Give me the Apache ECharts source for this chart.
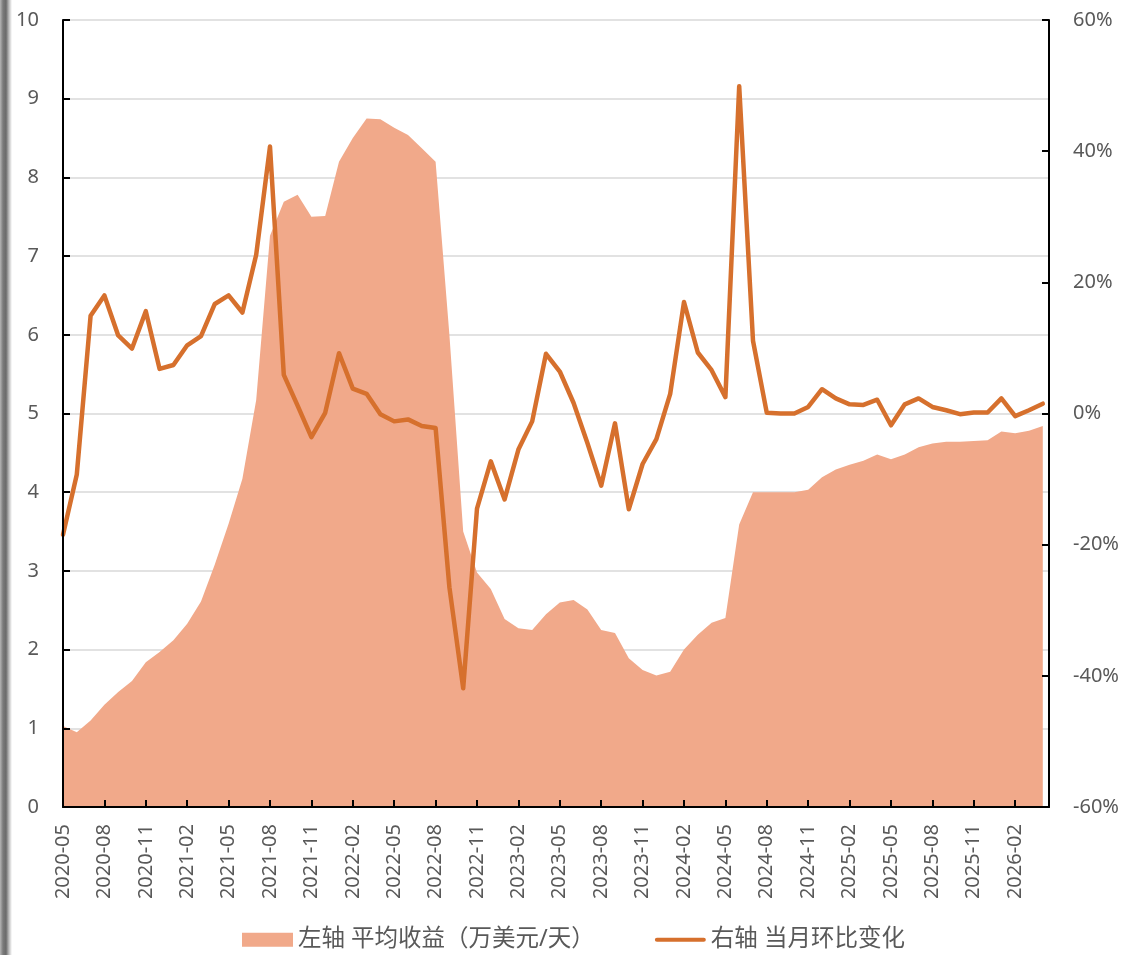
<!DOCTYPE html>
<html>
<head>
<meta charset="utf-8">
<script src="https://cdn.jsdelivr.net/npm/echarts@6/dist/echarts.min.js"></script>
<style>
  html, body { margin: 0; padding: 0; background: #ffffff; }
  #chart { width: 1127px; height: 955px; position: relative; }
  #edge { position: absolute; left: 0; top: 0; width: 12px; height: 955px; pointer-events: none; z-index: 5;
    background: linear-gradient(to right, #b5b5b5 0px, #7a7a7a 3px, #6a6a6a 6px, #bdbdbd 9px, #ffffff 12px); }
</style>
</head>
<body>
<div id="chart"></div>
<div id="edge"></div>
<script>
// Monthly categories (x axis)
const categories = [
  '2020-05','2020-06','2020-07','2020-08','2020-09','2020-10','2020-11','2020-12',
  '2021-01','2021-02','2021-03','2021-04','2021-05','2021-06','2021-07','2021-08','2021-09','2021-10','2021-11','2021-12',
  '2022-01','2022-02','2022-03','2022-04','2022-05','2022-06','2022-07','2022-08','2022-09','2022-10','2022-11','2022-12',
  '2023-01','2023-02','2023-03','2023-04','2023-05','2023-06','2023-07','2023-08','2023-09','2023-10','2023-11','2023-12',
  '2024-01','2024-02','2024-03','2024-04','2024-05','2024-06','2024-07','2024-08','2024-09','2024-10','2024-11','2024-12',
  '2025-01','2025-02','2025-03','2025-04','2025-05','2025-06','2025-07','2025-08','2025-09','2025-10','2025-11','2025-12',
  '2026-01','2026-02','2026-03','2026-04'
];

// Left axis: average earnings (10k USD / day)
const avgEarnings = [
  1.03, 0.95, 1.10, 1.30, 1.46, 1.60, 1.84, 1.97,
  2.12, 2.33, 2.61, 3.08, 3.60, 4.17, 5.17, 7.26, 7.69, 7.78, 7.50, 7.51,
  8.20, 8.50, 8.75, 8.74, 8.63, 8.54, 8.37, 8.20, 6.00, 3.50, 2.98, 2.77,
  2.39, 2.27, 2.25, 2.45, 2.60, 2.63, 2.51, 2.25, 2.21, 1.89, 1.74, 1.67,
  1.72, 2.00, 2.19, 2.34, 2.40, 3.59, 4.00, 4.00, 4.00, 4.00, 4.03, 4.19,
  4.29, 4.35, 4.40, 4.48, 4.42, 4.48, 4.57, 4.62, 4.64, 4.64, 4.65, 4.66,
  4.77, 4.75, 4.78, 4.84
];

// Right axis: month-over-month change (%)
const momChange = [
  -18.5, -9.3, 14.9, 18.0, 11.9, 9.9, 15.6, 6.8,
  7.4, 10.4, 11.8, 16.7, 18.0, 15.4, 24.2, 40.7, 5.9, 1.2, -3.6, 0.1,
  9.2, 3.8, 3.0, -0.1, -1.2, -0.9, -1.9, -2.2, -26.5, -41.9, -14.5, -7.3,
  -13.1, -5.5, -1.2, 9.1, 6.4, 1.6, -4.5, -11.0, -1.5, -14.6, -7.7, -3.9,
  3.0, 17.0, 9.3, 6.6, 2.5, 49.9, 11.1, 0.1, 0.0, 0.0, 1.0, 3.7,
  2.3, 1.4, 1.3, 2.1, -1.8, 1.4, 2.3, 1.0, 0.5, -0.1, 0.15, 0.15,
  2.3, -0.4, 0.5, 1.5
];

const leftTicks = { min: 0, max: 10, interval: 1 };
const rightTicks = { min: -60, max: 60, interval: 20 };
const seriesNames = ['左轴 平均收益（万美元/天）', '右轴 当月环比变化'];

const AREA = '#F1A98A';
const LINE = '#D6702D';
const TXT = '#595959';
const FONT = "'Noto Sans', 'Noto Sans CJK SC', sans-serif";

const chart = echarts.init(document.getElementById('chart'), null, { renderer: 'canvas' });

const option = {
  animation: false,
  backgroundColor: '#ffffff',
  textStyle: { fontFamily: FONT },
  grid: { left: 63, right: 78, top: 20, bottom: 148, containLabel: false, outerBoundsMode: 'none' },
  legend: {
    left: 242, top: 928, padding: 0,
    itemWidth: 51, itemHeight: 14, itemGap: 60,
    symbolKeepAspect: true,
    textStyle: { fontSize: 23.5, color: TXT, fontFamily: FONT },
    data: [
      { name: seriesNames[0], icon: 'rect', itemStyle: { color: AREA, borderWidth: 0 } },
      { name: seriesNames[1], icon: 'path://M2,0H52A2,2,0,0,1,52,4.5H2A2,2,0,0,1,2,0Z',
        itemStyle: { color: LINE, borderWidth: 0 } }
    ]
  },
  xAxis: {
    type: 'value',
    min: 0,
    max: 71.45,
    interval: 3,
    z: 10,
    axisLine: { onZero: false, lineStyle: { color: '#000', width: 2 } },
    axisTick: { show: true, inside: true, length: 7, lineStyle: { color: '#000', width: 2 } },
    splitLine: { show: false },
    axisLabel: {
      rotate: 90, margin: 17, fontSize: 20, color: TXT, fontFamily: FONT,
      showMaxLabel: false,
      formatter: function (v) {
        const i = Math.round(v);
        return (Math.abs(v - i) < 1e-6 && i % 3 === 0 && categories[i]) ? categories[i] : '';
      }
    }
  },
  yAxis: [
    {
      type: 'value', position: 'left',
      min: leftTicks.min, max: leftTicks.max, interval: leftTicks.interval,
      z: 10,
      axisLine: { show: true, lineStyle: { color: '#000', width: 2 } },
      axisTick: { show: true, inside: true, length: 7, lineStyle: { color: '#000', width: 2 } },
      splitLine: { show: false },
      axisLabel: { margin: 24, fontSize: 20, color: TXT, fontFamily: FONT }
    },
    {
      type: 'value', position: 'right',
      min: rightTicks.min, max: rightTicks.max, interval: rightTicks.interval,
      z: 10,
      axisLine: { show: true, lineStyle: { color: '#000', width: 2 } },
      axisTick: { show: true, inside: true, length: 7, lineStyle: { color: '#000', width: 2 } },
      splitLine: { show: false },
      axisLabel: { margin: 24, fontSize: 20, color: TXT, fontFamily: FONT, formatter: '{value}%' }
    },
    {
      type: 'value', position: 'left',
      min: leftTicks.min, max: leftTicks.max, interval: leftTicks.interval,
      z: 0,
      axisLine: { show: false }, axisTick: { show: false }, axisLabel: { show: false },
      splitLine: { show: true, lineStyle: { color: '#D9D9D9', width: 1.5 } }
    }
  ],
  series: [
    {
      name: seriesNames[0],
      type: 'line',
      yAxisIndex: 0,
      z: 2,
      symbol: 'none',
      showSymbol: false,
      lineStyle: { width: 0, color: AREA },
      itemStyle: { color: AREA },
      areaStyle: { color: AREA, opacity: 1 },
      data: avgEarnings.map((v, i) => [i, v])
    },
    {
      name: seriesNames[1],
      type: 'line',
      yAxisIndex: 1,
      z: 3,
      symbol: 'none',
      showSymbol: false,
      lineStyle: { width: 4.5, color: LINE, join: 'round', cap: 'round' },
      itemStyle: { color: LINE },
      data: momChange.map((v, i) => [i, v])
    }
  ]
};

chart.setOption(option);
</script>
</body>
</html>
